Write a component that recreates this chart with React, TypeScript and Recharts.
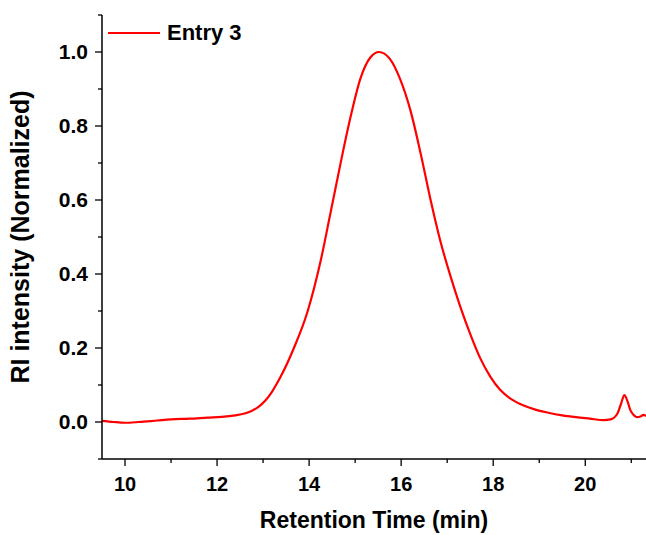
import { LineChart, Line, XAxis, YAxis } from "recharts";

// retention time (min) and normalized RI signal
const retentionTime = [
    9.5, 9.75, 10.0, 10.3, 10.7, 11.0, 11.4, 11.8, 12.1, 12.4, 12.6, 12.75, 12.9, 13.05, 13.2, 13.38, 13.67,
    13.96, 14.25, 14.46, 14.68, 14.9, 15.12, 15.33, 15.52, 15.75, 15.98, 16.2, 16.42, 16.64, 16.85, 17.07,
    17.29, 17.51, 17.72, 17.94, 18.15, 18.4, 18.65, 18.9, 19.2, 19.5, 19.8, 20.1, 20.4, 20.55, 20.7, 20.78,
    20.85, 20.92, 20.98, 21.06, 21.13, 21.2, 21.27, 21.32,
];
const riIntensity = [
    0.003, 0.0, -0.002, 0.0, 0.004, 0.007, 0.009, 0.012, 0.014, 0.018, 0.023, 0.03, 0.041, 0.058, 0.083, 0.122,
    0.2, 0.296, 0.435, 0.562, 0.697, 0.824, 0.93, 0.985, 1.0, 0.982, 0.926, 0.843, 0.728, 0.6, 0.49, 0.395,
    0.31, 0.235, 0.172, 0.122, 0.087, 0.061, 0.045, 0.034, 0.025, 0.018, 0.013, 0.009, 0.005, 0.007, 0.023,
    0.05, 0.073, 0.055, 0.032, 0.018, 0.013, 0.015, 0.019, 0.016,
];

const X_MAJOR = [10, 12, 14, 16, 18, 20];
const X_MINOR = [11, 13, 15, 17, 19, 21];
const Y_MAJOR = [0, 0.2, 0.4, 0.6, 0.8, 1.0];
const Y_MINOR = [-0.1, 0.1, 0.3, 0.5, 0.7, 0.9, 1.1];
const Y_LABELS = ["0.0", "0.2", "0.4", "0.6", "0.8", "1.0"];

const SERIES_NAME = "Entry 3";
const RED = "#ff0000";
const FONT = "'Liberation Sans', Arial, sans-serif";

const chartData = retentionTime.map((t, i) => ({ t, v: riIntensity[i] }));

const XTick = (props: any) => {
    const { x, y, payload } = props;
    const major = X_MAJOR.includes(payload.value);
    return (
        <g>
            <line x1={x} x2={x} y1={y} y2={y + (major ? 7 : 4)} stroke="#000" strokeWidth={1.3} />
            {major && (
                <text x={x} y={y + 32} textAnchor="middle" fontSize={20} fontWeight="bold" fill="#000" fontFamily={FONT}>
                    {payload.value}
                </text>
            )}
        </g>
    );
};

const YTick = (props: any) => {
    const { x, y, payload } = props;
    const idx = Y_MAJOR.findIndex((m) => Math.abs(m - payload.value) < 1e-6);
    const major = idx >= 0;
    return (
        <g>
            <line x1={x} x2={x - (major ? 7 : 4)} y1={y} y2={y} stroke="#000" strokeWidth={1.3} />
            {major && (
                <text x={x - 14} y={y + 7} textAnchor="end" fontSize={21} fontWeight="bold" fill="#000" fontFamily={FONT}>
                    {Y_LABELS[idx]}
                </text>
            )}
        </g>
    );
};

export default function App() {
    return (
        <div style={{ position: "absolute", left: 0, top: 0, width: 646, height: 535, background: "#fff" }}>
            <LineChart width={646} height={535} data={chartData} margin={{ top: 15, right: 0, bottom: 0, left: 0 }}>
                <XAxis
                    dataKey="t"
                    type="number"
                    domain={[9.5, 21.32]}
                    ticks={[...X_MAJOR, ...X_MINOR].sort((a, b) => a - b)}
                    tick={<XTick />}
                    tickLine={false}
                    tickSize={0}
                    tickMargin={0}
                    height={76}
                    allowDataOverflow
                    interval={0}
                    axisLine={{ stroke: "#000", strokeWidth: 1.5 }}
                    label={{
                        value: "Retention Time (min)",
                        position: "insideBottom",
                        offset: 7,
                        style: { fontSize: 23, fontWeight: "bold", fill: "#000", fontFamily: FONT },
                    }}
                />
                <YAxis
                    type="number"
                    domain={[-0.1, 1.1]}
                    ticks={[...Y_MAJOR, ...Y_MINOR].sort((a, b) => a - b)}
                    tick={<YTick />}
                    tickLine={false}
                    tickSize={0}
                    tickMargin={0}
                    width={102}
                    interval={0}
                    allowDataOverflow
                    axisLine={{ stroke: "#000", strokeWidth: 1.5 }}
                    label={{
                        value: "RI intensity (Normalized)",
                        angle: -90,
                        position: "insideLeft",
                        offset: 20,
                        style: { fontSize: 25, fontWeight: "bold", fill: "#000", fontFamily: FONT, textAnchor: "middle" },
                    }}
                />
                <Line
                    dataKey="v"
                    type="monotone"
                    stroke={RED}
                    strokeWidth={2.2}
                    dot={false}
                    isAnimationActive={false}
                    name={SERIES_NAME}
                />
            </LineChart>
            {/* legend sits inside the plot, top-left */}
            <div
                style={{
                    position: "absolute",
                    left: 108,
                    top: 21,
                    display: "flex",
                    alignItems: "center",
                    fontFamily: FONT,
                }}
            >
                <div style={{ width: 52, height: 2, backgroundColor: RED }} />
                <span style={{ marginLeft: 7, fontSize: 22, fontWeight: "bold", color: "#000", lineHeight: "24px" }}>
                    {SERIES_NAME}
                </span>
            </div>
        </div>
    );
}
